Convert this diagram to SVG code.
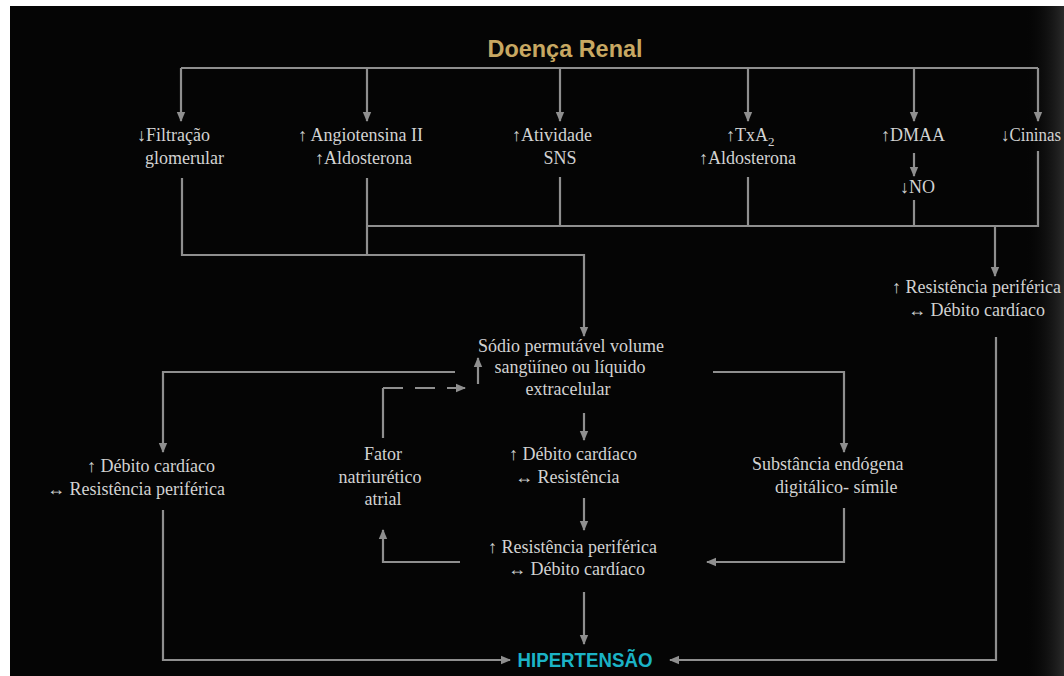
<svg xmlns="http://www.w3.org/2000/svg" width="1064" height="676" viewBox="0 0 1064 676">
<defs>
<style>
.t{font-family:"Liberation Serif","Times New Roman",serif;font-size:18px;fill:#d2d2d2}
.m{text-anchor:middle}
.c{fill:none;stroke:#8f8f8f;stroke-width:2.2}
.d{stroke-dasharray:20 12}
</style>
<marker id="ah" viewBox="0 0 10 10" refX="9" refY="5" markerWidth="10" markerHeight="10" markerUnits="userSpaceOnUse" orient="auto">
<path d="M0,0.8 L10,5 L0,9.2 z" fill="#8f8f8f"/>
</marker>
<linearGradient id="rg" x1="0" y1="0" x2="1" y2="0">
<stop offset="0" stop-color="#050505" stop-opacity="0"/>
<stop offset="1" stop-color="#2a2a2a"/>
</linearGradient>
</defs>
<rect x="0" y="0" width="1064" height="676" fill="#ffffff"/>
<rect x="10" y="6" width="1054" height="670" fill="#050505"/>
<rect x="1025" y="6" width="39" height="670" fill="url(#rg)"/>

<g id="connectors">
<path class="c" d="M181,68 H1038"/>
<path class="c" d="M181,68 V121" marker-end="url(#ah)"/>
<path class="c" d="M367,68 V121" marker-end="url(#ah)"/>
<path class="c" d="M560,68 V121" marker-end="url(#ah)"/>
<path class="c" d="M748,68 V121" marker-end="url(#ah)"/>
<path class="c" d="M914,68 V121" marker-end="url(#ah)"/>
<path class="c" d="M1038,68 V121" marker-end="url(#ah)"/>
<path class="c" d="M914,153 V176" marker-end="url(#ah)"/>
<path class="c" d="M182,178 V255 H584 V336" marker-end="url(#ah)"/>
<path class="c" d="M367,178 V255"/>
<path class="c" d="M367,226 H1038 V151"/>
<path class="c" d="M560,177 V226"/>
<path class="c" d="M748,177 V226"/>
<path class="c" d="M914,200 V226"/>
<path class="c" d="M995,226 V276" marker-end="url(#ah)"/>
<path class="c" d="M455,372 H163 V452" marker-end="url(#ah)"/>
<path class="c" d="M713,372 H844 V452" marker-end="url(#ah)"/>
<path class="c" d="M584,413 V440" marker-end="url(#ah)"/>
<path class="c" d="M584,498 V530" marker-end="url(#ah)"/>
<path class="c" d="M584,592 V644" marker-end="url(#ah)"/>
<path class="c" d="M460,562 H383 V530" marker-end="url(#ah)"/>
<path class="c" d="M383,438 V388"/>
<path class="c d" d="M383,388 H465" marker-end="url(#ah)"/>
<path class="c" d="M844,508 V562 H707" marker-end="url(#ah)"/>
<path class="c" d="M163,510 V660 H510" marker-end="url(#ah)"/>
<path class="c" d="M996,337 V660 H670" marker-end="url(#ah)"/>
</g>

<g id="doenca-renal">
<text x="565" y="57" text-anchor="middle" textLength="155" lengthAdjust="spacingAndGlyphs" style="font-family:'Liberation Sans',Arial,sans-serif;font-weight:bold;font-size:23px;fill:#c8a862">Doença Renal</text>
</g>
<g id="filtracao">
<text class="t" x="137" y="141">↓Filtração</text>
<text class="t" x="145" y="164">glomerular</text>
</g>
<g id="angiotensina">
<text class="t" x="298" y="141">↑ Angiotensina II</text>
<text class="t" x="315" y="164">↑Aldosterona</text>
</g>
<g id="atividade-sns">
<text class="t" x="512" y="141">↑Atividade</text>
<text class="t m" x="560" y="164">SNS</text>
</g>
<g id="txa2">
<text class="t" x="726" y="141">↑TxA<tspan dy="5" font-size="13">2</tspan></text>
<text class="t" x="699" y="164">↑Aldosterona</text>
</g>
<g id="dmaa">
<text class="t" x="881" y="141">↑DMAA</text>
</g>
<g id="no">
<text class="t" x="900" y="193">↓NO</text>
</g>
<g id="cininas">
<text class="t" x="1001" y="141" textLength="60" lengthAdjust="spacingAndGlyphs">↓Cininas</text>
</g>
<g id="resistencia-direita">
<text class="t" x="892" y="293">↑ Resistência periférica</text>
<text class="t" x="908" y="316">↔ Débito cardíaco</text>
</g>
<g id="sodio">
<text class="t m" x="571" y="352">Sódio permutável volume</text>
<text class="t m" x="570" y="373">sangüíneo ou líquido</text>
<text class="t m" x="568" y="395">extracelular</text>
<path class="c" d="M478,384 V358" marker-end="url(#ah)"/>
</g>
<g id="debito-centro">
<text class="t" x="509" y="460">↑ Débito cardíaco</text>
<text class="t" x="515" y="483">↔ Resistência</text>
</g>
<g id="resistencia-centro">
<text class="t" x="488" y="553">↑ Resistência periférica</text>
<text class="t" x="508" y="575">↔ Débito cardíaco</text>
</g>
<g id="fator">
<text class="t m" x="383" y="460">Fator</text>
<text class="t m" x="380" y="483">natriurético</text>
<text class="t m" x="383" y="505">atrial</text>
</g>
<g id="debito-esquerda">
<text class="t" x="87" y="472">↑ Débito cardíaco</text>
<text class="t" x="47" y="495">↔ Resistência periférica</text>
</g>
<g id="substancia">
<text class="t" x="752" y="470">Substância endógena</text>
<text class="t" x="775" y="493">digitálico- símile</text>
</g>
<g id="hipertensao">
<text x="585" y="667" text-anchor="middle" textLength="135" lengthAdjust="spacingAndGlyphs" style="font-family:'Liberation Sans',Arial,sans-serif;font-weight:bold;font-size:20px;fill:#1bb3c6">HIPERTENSÃO</text>
</g>
</svg>
